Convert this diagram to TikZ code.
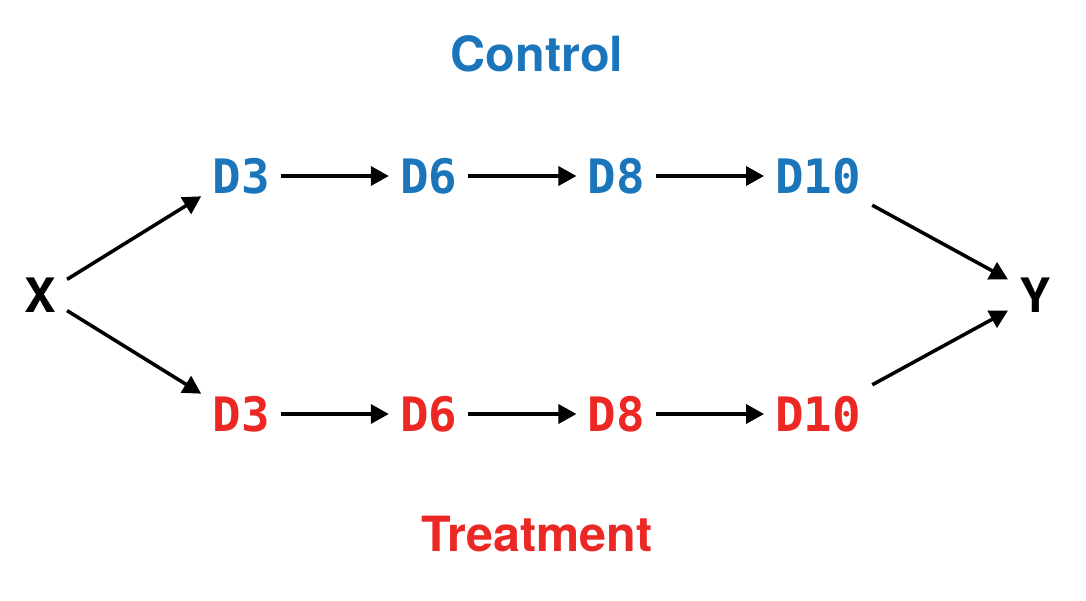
\documentclass[tikz,border=0pt]{standalone}
\usepackage{fontspec}
\setsansfont{TeX Gyre Heros}
\setmonofont{DejaVu Sans Mono}
\usetikzlibrary{arrows.meta,positioning}
\definecolor{ctrlblue}{RGB}{26,117,187}
\definecolor{treatred}{RGB}{236,40,36}
\tikzset{
  day/.style={font=\fontsize{13.5}{13.5}\selectfont\ttfamily\bfseries, inner sep=3pt},
  var/.style={font=\fontsize{13.5}{13.5}\selectfont\sffamily\bfseries, inner sep=3pt},
  grp/.style={font=\fontsize{13.8}{13.8}\selectfont\sffamily\bfseries},
  arr/.style={-{Triangle[length=0.18cm,width=0.19cm]}, line width=1pt}
}
\begin{document}
\begin{tikzpicture}
\useasboundingbox (0,0) rectangle (10.86,6.00);
\node[grp, text=ctrlblue] (control) at (5.37,5.46) {Control};
\node[grp, text=treatred] (treatment) at (5.37,0.66) {Treatment};
\node[var] (x) at (0.40,3.05) {X};
\node[var] (y) at (10.35,3.05) {Y};
% control row
\node[day, text=ctrlblue] (c3) at (2.41,4.24) {D3};
\node[day, text=ctrlblue, right=1.08cm of c3] (c6) {D6};
\node[day, text=ctrlblue, right=1.08cm of c6] (c8) {D8};
\node[day, text=ctrlblue, right=1.08cm of c8] (c10) {D10};
% treatment row
\node[day, text=treatred] (t3) at (2.41,1.86) {D3};
\node[day, text=treatred, right=1.08cm of t3] (t6) {D6};
\node[day, text=treatred, right=1.08cm of t6] (t8) {D8};
\node[day, text=treatred, right=1.08cm of t8] (t10) {D10};
\foreach \a/\b in {c3/c6,c6/c8,c8/c10,t3/t6,t6/t8,t8/t10}
  \draw[arr] (\a) -- (\b);
\draw[arr] (x.30) -- (c3.-153);
\draw[arr] (x.-30) -- (t3.153);
\draw[arr] (c10.south east) -- (y.150);
\draw[arr] (t10.north east) -- (y.-150);
\end{tikzpicture}
\end{document}
